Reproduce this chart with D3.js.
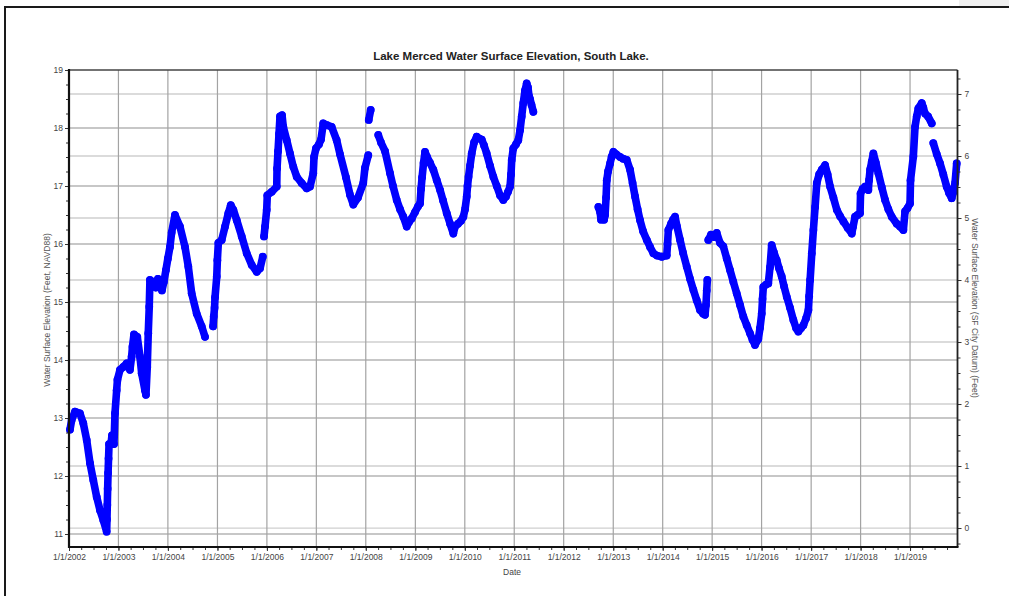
<!DOCTYPE html>
<html><head><meta charset="utf-8">
<script src="https://cdn.jsdelivr.net/npm/d3@7"></script>
<style>
body{margin:0;background:#fff;}
svg{display:block;font-family:"Liberation Sans",Arial,sans-serif;}
</style>
</head><body>
<svg id="chart" width="1009" height="596"></svg>
<script>
// ---------- texts ----------
const chartTitle = "Lake Merced Water Surface Elevation, South Lake.";
const xTitle = "Date";
const yLeftTitle = "Water Surface Elevation (Feet, NAVD88)";
const yRightTitle = "Water Surface Elevation (SF City Datum) (Feet)";

// ---------- axes ----------
const xTickYears = [2002,2003,2004,2005,2006,2007,2008,2009,2010,2011,2012,2013,2014,2015,2016,2017,2018,2019];
const dateDomain = [2002.0, 2019.96];           // decimal years
const leftTicks = [11,12,13,14,15,16,17,18,19];
const leftDomain = [10.776, 19];                // feet, NAVD88
const rightTicks = [0,1,2,3,4,5,6,7];
const rightDomain = [-0.306, 7.387];            // feet, SF City Datum

// ---------- readings: [decimal year, elevation ft NAVD88], split where record has gaps ----------
const seg2002to2004 = [[2002.020,12.80],[2002.055,12.97],[2002.121,13.11],[2002.222,13.08],[2002.289,12.91],[2002.358,12.62],[2002.425,12.22],[2002.491,11.93],[2002.560,11.64],[2002.627,11.41],[2002.693,11.24],[2002.762,11.04],[2002.768,11.25],[2002.775,11.50],[2002.782,11.78],[2002.790,12.05],[2002.800,12.30],[2002.810,12.55],[2002.849,12.55],[2002.869,12.70],[2002.910,12.55],[2002.930,13.08],[2002.964,13.48],[2002.980,13.66],[2003.031,13.83],[2003.098,13.88],[2003.166,13.94],[2003.233,13.83],[2003.267,14.06],[2003.284,14.23],[2003.314,14.44],[2003.381,14.40],[2003.435,14.06],[2003.470,13.77],[2003.536,13.48],[2003.557,13.40],[2003.583,13.88],[2003.603,14.46],[2003.623,14.92],[2003.637,15.38],[2003.678,15.30],[2003.718,15.35],[2003.759,15.25],[2003.799,15.40],[2003.839,15.30],[2003.880,15.20],[2003.920,15.35],[2003.960,15.55],[2004.000,15.75],[2004.042,15.95],[2004.076,16.20],[2004.143,16.50],[2004.244,16.30],[2004.345,15.95],[2004.412,15.61],[2004.480,15.15],[2004.581,14.80],[2004.682,14.58],[2004.749,14.40]];
const seg2005 = [[2004.911,14.58],[2004.925,14.75],[2004.941,14.90],[2004.951,15.08],[2004.986,15.44],[2004.998,15.72],[2005.018,16.02],[2005.087,16.07],[2005.153,16.30],[2005.220,16.53],[2005.269,16.67],[2005.321,16.59],[2005.390,16.41],[2005.491,16.13],[2005.592,15.84],[2005.693,15.64],[2005.794,15.52],[2005.861,15.58],[2005.916,15.78]];
const seg2006to2008 = [[2005.942,16.13],[2005.962,16.30],[2005.996,16.59],[2006.008,16.84],[2006.097,16.90],[2006.199,16.99],[2006.205,17.30],[2006.225,17.60],[2006.245,17.90],[2006.265,18.20],[2006.306,18.22],[2006.332,18.02],[2006.401,17.79],[2006.467,17.56],[2006.534,17.33],[2006.603,17.16],[2006.704,17.05],[2006.805,16.96],[2006.872,16.99],[2006.938,17.22],[2006.953,17.50],[2006.993,17.65],[2007.054,17.72],[2007.094,17.80],[2007.140,18.08],[2007.215,18.05],[2007.310,18.02],[2007.411,17.79],[2007.478,17.55],[2007.599,17.15],[2007.680,16.85],[2007.747,16.68],[2007.842,16.80],[2007.949,17.05],[2007.983,17.31],[2008.050,17.53]];
const seg2008a = [[2008.060,18.14],[2008.099,18.31]];
const seg2008to2011 = [[2008.252,17.88],[2008.307,17.75],[2008.388,17.60],[2008.489,17.22],[2008.549,17.00],[2008.624,16.76],[2008.691,16.60],[2008.758,16.47],[2008.826,16.30],[2008.873,16.38],[2008.927,16.44],[2008.994,16.55],[2009.055,16.65],[2009.095,16.70],[2009.115,16.95],[2009.136,17.15],[2009.166,17.40],[2009.196,17.59],[2009.237,17.50],[2009.297,17.40],[2009.364,17.28],[2009.433,17.10],[2009.500,16.93],[2009.560,16.75],[2009.635,16.53],[2009.702,16.35],[2009.768,16.18],[2009.803,16.30],[2009.863,16.35],[2009.924,16.40],[2009.971,16.47],[2010.005,16.60],[2010.039,16.82],[2010.055,17.00],[2010.076,17.16],[2010.106,17.35],[2010.140,17.56],[2010.187,17.75],[2010.241,17.85],[2010.288,17.82],[2010.343,17.80],[2010.389,17.70],[2010.443,17.56],[2010.510,17.35],[2010.577,17.16],[2010.646,17.00],[2010.712,16.84],[2010.779,16.76],[2010.834,16.82],[2010.874,16.90],[2010.915,16.99],[2010.935,17.20],[2010.949,17.45],[2010.981,17.65],[2011.036,17.72],[2011.082,17.79],[2011.117,17.96],[2011.151,18.20],[2011.183,18.43],[2011.218,18.65],[2011.252,18.77],[2011.278,18.70],[2011.299,18.55],[2011.319,18.50],[2011.349,18.40],[2011.386,18.28]];
const seg2012to2014 = [[2012.700,16.64],[2012.734,16.55],[2012.754,16.42],[2012.774,16.50],[2012.794,16.45],[2012.815,16.42],[2012.835,16.50],[2012.855,16.80],[2012.869,17.10],[2012.895,17.25],[2012.936,17.39],[2012.966,17.50],[2013.003,17.59],[2013.057,17.55],[2013.138,17.50],[2013.199,17.47],[2013.273,17.45],[2013.340,17.28],[2013.391,17.05],[2013.441,16.82],[2013.492,16.60],[2013.542,16.41],[2013.603,16.22],[2013.678,16.07],[2013.744,15.95],[2013.811,15.84],[2013.886,15.80],[2013.981,15.78],[2014.082,15.80],[2014.098,16.00],[2014.114,16.24],[2014.169,16.35],[2014.209,16.42],[2014.250,16.47],[2014.290,16.30],[2014.351,16.07],[2014.411,15.85],[2014.486,15.61],[2014.553,15.40],[2014.620,15.21],[2014.688,15.03],[2014.755,14.86],[2014.816,14.80],[2014.856,14.78],[2014.876,14.95],[2014.891,15.20],[2014.903,15.38]];
const seg2015to2019 = [[2014.923,16.07],[2014.977,16.16],[2015.038,16.12],[2015.093,16.19],[2015.159,16.02],[2015.226,15.96],[2015.295,15.75],[2015.362,15.55],[2015.428,15.35],[2015.497,15.15],[2015.564,14.95],[2015.630,14.75],[2015.699,14.60],[2015.766,14.46],[2015.816,14.35],[2015.867,14.26],[2015.934,14.36],[2015.968,14.55],[2016.003,14.80],[2016.019,15.05],[2016.035,15.26],[2016.089,15.30],[2016.136,15.32],[2016.170,15.60],[2016.204,15.98],[2016.251,15.85],[2016.305,15.72],[2016.352,15.58],[2016.406,15.44],[2016.453,15.27],[2016.508,15.09],[2016.574,14.90],[2016.641,14.69],[2016.696,14.55],[2016.742,14.49],[2016.797,14.55],[2016.844,14.60],[2016.898,14.72],[2016.945,14.86],[2016.959,15.10],[2016.979,15.38],[2017.013,15.84],[2017.045,16.24],[2017.080,16.64],[2017.114,17.05],[2017.161,17.20],[2017.215,17.28],[2017.282,17.36],[2017.333,17.20],[2017.383,16.99],[2017.450,16.80],[2017.519,16.59],[2017.585,16.48],[2017.652,16.39],[2017.737,16.28],[2017.822,16.18],[2017.848,16.30],[2017.888,16.47],[2017.939,16.50],[2017.989,16.53],[2017.999,16.87],[2018.040,16.95],[2018.090,16.99],[2018.157,16.93],[2018.171,17.10],[2018.192,17.28],[2018.226,17.42],[2018.258,17.56],[2018.309,17.40],[2018.359,17.22],[2018.428,16.98],[2018.495,16.76],[2018.561,16.60],[2018.630,16.47],[2018.731,16.35],[2018.798,16.30],[2018.865,16.24],[2018.899,16.56],[2018.950,16.62],[2019.000,16.70],[2019.010,17.10],[2019.067,17.51],[2019.101,18.02],[2019.135,18.20],[2019.168,18.34],[2019.237,18.43],[2019.269,18.35],[2019.303,18.25],[2019.364,18.20],[2019.439,18.08]];
const seg2019 = [[2019.471,17.74],[2019.540,17.55],[2019.607,17.39],[2019.673,17.20],[2019.740,16.99],[2019.789,16.88],[2019.843,16.79],[2019.879,16.90],[2019.910,17.05],[2019.944,17.39]];
const segments = [seg2002to2004, seg2005, seg2006to2008, seg2008a, seg2008to2011, seg2012to2014, seg2015to2019, seg2019];

// ---------- helpers ----------
function toDate(y){
  const yr = Math.floor(y);
  const a = new Date(yr,0,1), b = new Date(yr+1,0,1);
  return new Date(+a + (y-yr)*(b-a));
}

const svg = d3.select("#chart");
const L = 69, R = 957.5, T = 70, B = 547;

const x = d3.scaleTime().domain(dateDomain.map(toDate)).range([L, R]);
const yL = d3.scaleLinear().domain(leftDomain).range([B, T]);
const yR = d3.scaleLinear().domain(rightDomain).range([B, T]);

// outer frame
svg.append("rect").attr("x",959).attr("y",0).attr("width",50).attr("height",6).attr("fill","#f0f0f0");
svg.append("line").attr("x1",5).attr("x2",1009).attr("y1",7).attr("y2",7).attr("stroke","#1a1a1a").attr("stroke-width",2);
svg.append("line").attr("x1",5).attr("x2",5).attr("y1",6).attr("y2",596).attr("stroke","#1a1a1a").attr("stroke-width",2);

// title
svg.append("text").attr("x",511).attr("y",60).attr("text-anchor","middle")
  .attr("font-size",11.5).attr("font-weight","bold").attr("fill","#222").text(chartTitle);

// grid
const grid = svg.append("g");
grid.selectAll(".gr").data(rightTicks).join("line")
  .attr("x1",L).attr("x2",R).attr("y1",d=>yR(d)).attr("y2",d=>yR(d))
  .attr("stroke","#cfcfcf").attr("stroke-width",1.3);
grid.selectAll(".gl").data(leftTicks.filter(d=>d<19)).join("line")
  .attr("x1",L).attr("x2",R).attr("y1",d=>yL(d)).attr("y2",d=>yL(d))
  .attr("stroke","#8f8f8f").attr("stroke-width",1.2);
grid.selectAll(".gx").data(xTickYears.slice(1)).join("line")
  .attr("x1",d=>x(toDate(d))).attr("x2",d=>x(toDate(d))).attr("y1",T).attr("y2",B)
  .attr("stroke","#a3a3a3").attr("stroke-width",1.2);

// data
const line = d3.line().x(d=>x(toDate(d[0]))).y(d=>yL(d[1]));
const dataG = svg.append("g");
dataG.selectAll("path").data(segments).join("path")
  .attr("d", line).attr("fill","none").attr("stroke","#0000ff")
  .attr("stroke-width",7.6).attr("stroke-linecap","round").attr("stroke-linejoin","round");
dataG.selectAll("circle").data(segments.flat()).join("circle")
  .attr("cx",d=>x(toDate(d[0]))).attr("cy",d=>yL(d[1])).attr("r",3.9).attr("fill","#0000ff");

// axes
function styleAxis(g){
  g.select(".domain").remove();
  g.selectAll("line").attr("stroke","#333");
  g.selectAll("text").attr("fill","#444").attr("font-size",8.5).attr("font-family","'Liberation Sans',Arial,sans-serif");
}
svg.append("g").attr("transform",`translate(${L},0)`)
  .call(d3.axisLeft(yL).tickValues(d3.range(10.75,19.01,0.25).filter(v=>v>=leftDomain[0]&&v%1!==0)).tickSize(3).tickFormat(""))
  .call(styleAxis);
svg.append("g").attr("transform",`translate(${L},0)`)
  .call(d3.axisLeft(yL).tickValues(leftTicks).tickSize(4).tickPadding(2).tickFormat(d3.format("d")))
  .call(styleAxis);
svg.append("g").attr("transform",`translate(${R},0)`)
  .call(d3.axisRight(yR).tickValues(d3.range(-0.25,7.38,0.25).filter(v=>v%1!==0)).tickSize(3).tickFormat(""))
  .call(styleAxis);
svg.append("g").attr("transform",`translate(${R},0)`)
  .call(d3.axisRight(yR).tickValues(rightTicks).tickSize(4).tickPadding(3).tickFormat(d3.format("d")))
  .call(styleAxis);
svg.append("g").attr("transform",`translate(0,${B})`)
  .call(d3.axisBottom(x).ticks(d3.timeMonth.every(3)).tickSize(3).tickFormat(""))
  .call(styleAxis);
svg.append("g").attr("transform",`translate(0,${B})`)
  .call(d3.axisBottom(x).tickValues(xTickYears.map(toDate)).tickSize(4).tickPadding(3).tickFormat(d3.timeFormat("%-m/%-d/%Y")))
  .call(styleAxis);

// plot frame
svg.append("line").attr("x1",L).attr("x2",R).attr("y1",T).attr("y2",T).attr("stroke","#444").attr("stroke-width",1.5);
svg.append("line").attr("x1",R).attr("x2",R).attr("y1",T).attr("y2",B).attr("stroke","#222").attr("stroke-width",1.8);
svg.append("line").attr("x1",L).attr("x2",L).attr("y1",T-1).attr("y2",B+1).attr("stroke","#111").attr("stroke-width",2.2);
svg.append("line").attr("x1",L-1).attr("x2",R+1).attr("y1",B).attr("y2",B).attr("stroke","#111").attr("stroke-width",2.2);

// axis titles
svg.append("text").attr("x",512).attr("y",575).attr("text-anchor","middle").attr("font-size",8.5).attr("fill","#444").text(xTitle);
svg.append("text").attr("transform","translate(50,310) rotate(-90)").attr("text-anchor","middle").attr("font-size",8.5).attr("fill","#555").text(yLeftTitle);
svg.append("text").attr("transform","translate(972,308) rotate(90)").attr("text-anchor","middle").attr("font-size",8.5).attr("fill","#555").text(yRightTitle);
</script>
</body></html>
